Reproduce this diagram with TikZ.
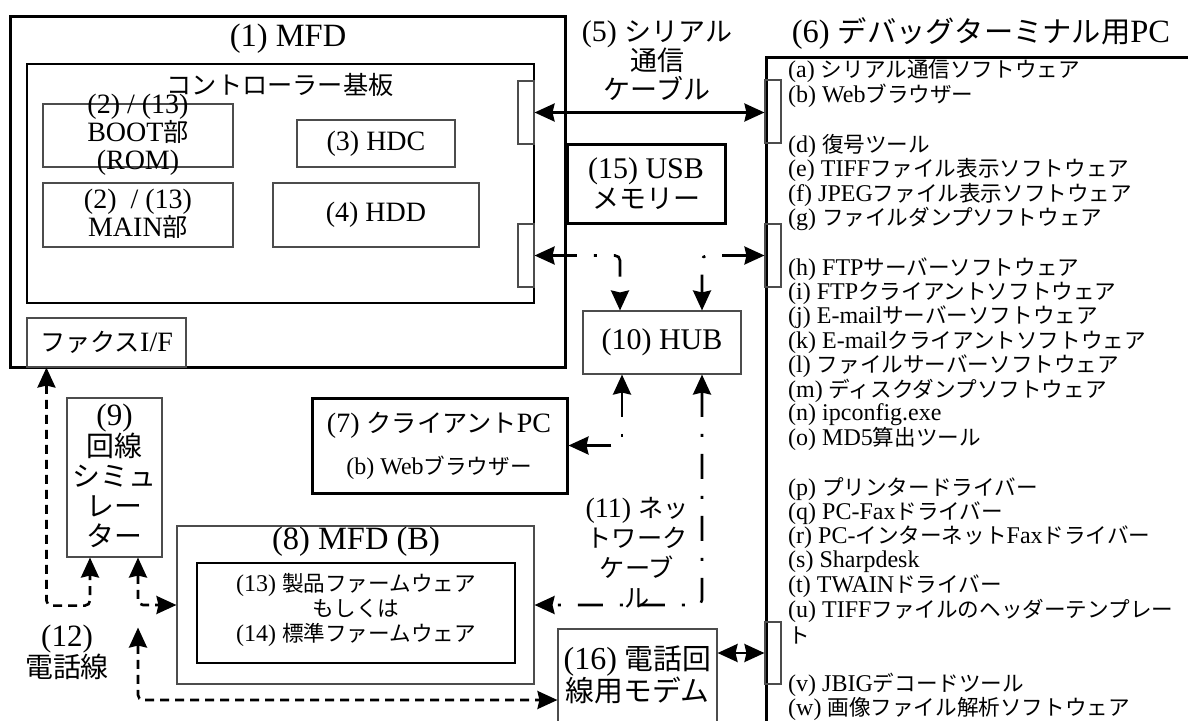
\documentclass[tikz,border=0pt]{standalone}
\usepackage{fontspec}
\usetikzlibrary{arrows.meta}
\setmainfont{Liberation Serif}
\newfontfamily\jpfont{Noto Sans CJK JP}[Scale=0.9]
\XeTeXinterchartokenstate=1
\newXeTeXintercharclass\JPclass
\newcount\jpcnt
\def\setjprange#1#2{\jpcnt=#1\relax\loop\XeTeXcharclass\jpcnt=\JPclass\relax\ifnum\jpcnt<#2\relax\advance\jpcnt by 1\relax\repeat}
\setjprange{"3000}{"30FF}
\setjprange{"4E00}{"9FFF}
\setjprange{"FF00}{"FFEF}
\XeTeXinterchartoks 0 \JPclass = {\jpfont}
\XeTeXinterchartoks 4095 \JPclass = {\jpfont}
\XeTeXinterchartoks \JPclass 0 = {\rmfamily}
\XeTeXinterchartoks \JPclass 4095 = {\rmfamily}
\XeTeXinterchartoks 4095 0 = {\rmfamily}
\newcommand\fz[2]{\fontsize{#1}{#2}\selectfont}
\tikzset{
  thinbox/.style={draw=black!70, line width=1.1pt, inner sep=0pt, rectangle},
  thickbox/.style={draw=black, line width=3pt, inner sep=0pt, rectangle},
  midbox/.style={draw=black, line width=2pt, inner sep=0pt, rectangle},
  txt/.style={inner sep=0pt, align=center},
  item/.style={inner sep=0pt, anchor=west, font=\fz{24}{24}},
  arr/.style={line width=2.6pt, {Stealth[length=20pt,width=18pt,inset=2pt]}-{Stealth[length=20pt,width=18pt,inset=2pt]}},
  net/.style={arr, dash pattern=on 25pt off 17pt on 3pt off 17pt, rounded corners=5pt},
  tel/.style={arr, dash pattern=on 9pt off 6pt, rounded corners=5pt}
}
\begin{document}
\begin{tikzpicture}[x=1pt,y=-1pt]
\useasboundingbox (0,0) rectangle (1188,720);
% (1) MFD
\node[thickbox, minimum width=555, minimum height=351] (mfd) at (287.5,191.5) {};
\node[txt, font=\fz{32.5}{32.5}] (mfdT) at (288,39) {(1) MFD};
\node[midbox, minimum width=507, minimum height=239] (board) at (280.5,183.5) {};
\node[txt, font=\fz{28}{28}] (boardT) at (280,85) {コントローラー基板};
\node[thinbox, minimum width=190, minimum height=63] (boot) at (138,135.5) {};
\node[txt, font=\fz{28}{28}] (bootT) at (138,135) {(2) / (13)\\BOOT部\\(ROM)};
\node[thinbox, minimum width=190, minimum height=64] (main) at (138,215) {};
\node[txt, font=\fz{28}{27}] (mainT) at (138,214) {(2)~~/ (13)\\MAIN部};
\node[thinbox, minimum width=158, minimum height=47, font=\fz{28}{28}] (hdc) at (376,143.5) {(3) HDC};
\node[thinbox, minimum width=206, minimum height=64, font=\fz{28}{28}] (hdd) at (376,215) {(4) HDD};
\node[thinbox, minimum width=159, minimum height=49, font=\fz{28}{28}] (fax) at (106.5,342.5) {ファクスI/F};
\node[thinbox, minimum width=16, minimum height=63] (portA) at (526,112.5) {};
\node[thinbox, minimum width=16, minimum height=63] (portB) at (526,255.5) {};
% (15) USB
\node[thickbox, minimum width=158, minimum height=79, font=\fz{30}{30}, align=center] (usb) at (646,183.5) {(15) USB\\メモリー};
% (5) label
\node[txt, font=\fz{30}{29}] (serT) at (657,61) {(5) シリアル\\通信\\ケーブル};
% (6) PC
\node[thickbox, minimum width=440, minimum height=700, anchor=north west] (pc) at (765,56) {};
\node[txt, font=\fz{32.5}{32.5}] (pcT) at (981,33) {(6) デバッグターミナル用PC};
\node[thinbox, minimum width=16, minimum height=63] (pcA) at (773,111.5) {};
\node[thinbox, minimum width=16, minimum height=63] (pcB) at (773,255.5) {};
\node[thinbox, minimum width=16, minimum height=62] (pcC) at (773,653) {};
\node[item] (la) at (788,71) {(a) シリアル通信ソフトウェア};
\node[item] (lb) at (788,95.3) {(b) Webブラウザー};
\node[item] (ld) at (788,146.1) {(d) 復号ツール};
\node[item] (le) at (788,170.4) {(e) TIFFファイル表示ソフトウェア};
\node[item] (lf) at (788,194.7) {(f) JPEGファイル表示ソフトウェア};
\node[item] (lg) at (788,219) {(g) ファイルダンプソフトウェア};
\node[item] (lh) at (788,269) {(h) FTPサーバーソフトウェア};
\node[item] (li) at (788,293.3) {(i) FTPクライアントソフトウェア};
\node[item] (lj) at (788,317.6) {(j) E-mailサーバーソフトウェア};
\node[item] (lk) at (788,341.9) {(k) E-mailクライアントソフトウェア};
\node[item] (ll) at (788,366.2) {(l) ファイルサーバーソフトウェア};
\node[item] (lm) at (788,390.5) {(m) ディスクダンプソフトウェア};
\node[item] (ln) at (788,414.8) {(n) ipconfig.exe};
\node[item] (lo) at (788,439.1) {(o) MD5算出ツール};
\node[item] (lp) at (788,489) {(p) プリンタードライバー};
\node[item] (lq) at (788,513.3) {(q) PC-Faxドライバー};
\node[item] (lr) at (788,537.6) {(r) PC-インターネットFaxドライバー};
\node[item] (ls) at (788,561.9) {(s) Sharpdesk};
\node[item] (lt) at (788,586.2) {(t) TWAINドライバー};
\node[item] (lu) at (788,610.5) {(u) TIFFファイルのヘッダーテンプレー};
\node[item] (lu2) at (788,635) {ト};
\node[item] (lv) at (788,685) {(v) JBIGデコードツール};
\node[item] (lw) at (788,709.3) {(w) 画像ファイル解析ソフトウェア};
% (10) HUB
\node[thinbox, minimum width=158, minimum height=63, font=\fz{30}{30}] (hub) at (662,342.5) {(10) HUB};
% (7) client
\node[thickbox, minimum width=255, minimum height=95] (client) at (439.5,445.5) {};
\node[txt, font=\fz{28}{28}] (clientT) at (439,425) {(7) クライアントPC};
\node[txt, font=\fz{24}{24}] (clientB) at (439,468) {(b) Webブラウザー};
% (9) simulator
\node[thinbox, minimum width=95, minimum height=159] (sim) at (114.5,477.5) {};
\node[txt, font=\fz{31}{30}] (simT) at (114.5,476) {(9)\\回線\\シミュ\\レー\\ター};
% (8) MFD (B)
\node[thinbox, minimum width=357, minimum height=158] (mfdb) at (355.5,605) {};
\node[txt, font=\fz{32.5}{32.5}] (mfdbT) at (356,542) {(8) MFD (B)};
\node[midbox, minimum width=318, minimum height=100] (fw) at (356,613) {};
\node[txt, font=\fz{24}{25}] (fwT) at (356,610) {(13) 製品ファームウェア\\もしくは\\(14) 標準ファームウェア};
% (16) modem
\node[thinbox, minimum width=159, minimum height=142] (modem) at (637.5,700) {};
\node[txt, font=\fz{32}{30}] (modemT) at (637.5,675) {(16) 電話回\\線用モデム};
% labels
\node[txt, font=\fz{28}{30}] (netT) at (637,553) {(11) ネッ\\トワーク\\ケーブ\\ル};
\node[txt, font=\fz{31}{29}] (telT) at (67,652) {(12)\\電話線};
% coordinates
\coordinate (hubT1) at ([xshift=-42pt]hub.north);
\coordinate (hubT2) at ([xshift=40pt]hub.north);
\coordinate (hubB1) at ([xshift=-40pt]hub.south);
\coordinate (hubB2) at ([xshift=40pt]hub.south);
\coordinate (faxP) at ([xshift=20pt]fax.south west);
\coordinate (simB1) at ([xshift=-24.5pt]sim.south);
\coordinate (simB2) at ([xshift=23.5pt]sim.south);
\coordinate (ptip) at ([yshift=-70pt]simB2);
% connectors
\draw[arr] (portA.east) -- (portA.east -| pcA.west);
\draw[net] (portB.east) -| (hubT1);
\draw[net] (pcB.west) -| (hubT2);
\draw[net] (hubB1) |- (client.east);
\draw[net] (hubB2) |- (mfdb.east);
\draw[tel] (faxP) -- ++(0,238) -| (simB1);
\draw[tel] (simB2) |- (mfdb.west);
\draw[tel] (ptip) |- (modem.west);
\draw[arr] (pcC.west -| modem.east) -- (pcC.west);
\end{tikzpicture}
\end{document}
